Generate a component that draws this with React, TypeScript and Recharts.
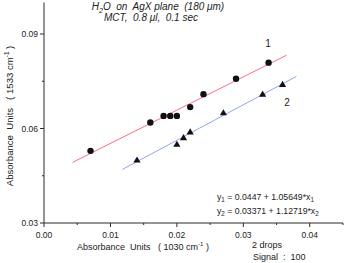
import React from "react";
import { ComposedChart, Scatter, Line, XAxis, YAxis } from "recharts";

const series1X = [0.007, 0.016, 0.018, 0.019, 0.02, 0.022, 0.024, 0.0289, 0.0338];
const series1Y = [0.0529, 0.0619, 0.064, 0.064, 0.064, 0.0668, 0.0709, 0.0758, 0.0809];
const series2X = [0.014, 0.02, 0.021, 0.022, 0.027, 0.0329, 0.0359];
const series2Y = [0.05, 0.055, 0.0571, 0.0589, 0.065, 0.0709, 0.074];

const fit1 = { intercept: 0.0447, slope: 1.05649, from: 0.0043, to: 0.0365 };
const fit2 = { intercept: 0.03371, slope: 1.12719, from: 0.0118, to: 0.038 };

const xTicks = [0, 0.005, 0.01, 0.015, 0.02, 0.025, 0.03, 0.035, 0.04, 0.045];
const xMajor = [0, 0.01, 0.02, 0.03, 0.04];
const yTicks = [0.03, 0.045, 0.06, 0.075, 0.09];
const yMajor = [0.03, 0.06, 0.09];

const pts1 = series1X.map((x, i) => ({ x, y: series1Y[i] }));
const pts2 = series2X.map((x, i) => ({ x, y: series2Y[i] }));
const line1 = [fit1.from, fit1.to].map((x) => ({ x, y: fit1.intercept + fit1.slope * x }));
const line2 = [fit2.from, fit2.to].map((x) => ({ x, y: fit2.intercept + fit2.slope * x }));

const FONT = "'Liberation Sans', Arial, sans-serif";
const AXIS = "#2a2a2a";

const isMajor = (v: number, list: number[]) => list.some((m) => Math.abs(m - v) < 1e-9);

const XTick = (props: any) => {
  const { x, y, payload } = props;
  const major = isMajor(payload.value, xMajor);
  return (
    <g>
      <line x1={x} x2={x} y1={y} y2={y + (major ? 4 : 2)} stroke={AXIS} strokeWidth={1} />
      {major && (
        <text x={x} y={y + 15} textAnchor="middle" fontSize={8.5} fontFamily={FONT} fill="#222">
          {payload.value.toFixed(2)}
        </text>
      )}
    </g>
  );
};

const YTick = (props: any) => {
  const { x, y, payload } = props;
  const major = isMajor(payload.value, yMajor);
  return (
    <g>
      <line x1={x} x2={x - (major ? 4 : 2)} y1={y} y2={y} stroke={AXIS} strokeWidth={1} />
      {major && (
        <text x={x - 6} y={y + 3} textAnchor="end" fontSize={8.5} fontFamily={FONT} fill="#222">
          {payload.value.toFixed(2)}
        </text>
      )}
    </g>
  );
};

const Dot = (props: any) => <circle cx={props.cx} cy={props.cy} r={3.2} fill="#111" />;
const Tri = (props: any) => {
  const { cx, cy } = props;
  return <path d={`M${cx},${cy - 3.6} L${cx + 3.6},${cy + 2.6} L${cx - 3.6},${cy + 2.6} Z`} fill="#111" />;
};

const pre = { whiteSpace: "pre" } as React.CSSProperties;

export default function App() {
  return (
    <div style={{ position: "absolute", left: 0, top: 0, width: 344, height: 263, background: "#fff" }}>
      <ComposedChart width={344} height={263} margin={{ top: 2.5, right: 1, bottom: 0, left: 0 }}>
        <XAxis
          type="number"
          dataKey="x"
          domain={[0, 0.045]}
          ticks={xTicks}
          interval={0}
          tickSize={0}
          tickMargin={0}
          tick={<XTick />}
          height={40}
          stroke={AXIS}
          allowDataOverflow
        />
        <YAxis
          type="number"
          dataKey="y"
          domain={[0.03, 0.1]}
          ticks={yTicks}
          interval={0}
          tickSize={0}
          tickMargin={0}
          tick={<YTick />}
          width={44}
          stroke={AXIS}
          allowDataOverflow
        />
        <Line data={line1} dataKey="y" stroke="#ff6b84" strokeWidth={1} dot={false} isAnimationActive={false} />
        <Line data={line2} dataKey="y" stroke="#8ea6f2" strokeWidth={1} dot={false} isAnimationActive={false} />
        <Scatter data={pts1} fill="#111" shape={<Dot />} isAnimationActive={false} />
        <Scatter data={pts2} fill="#111" shape={<Tri />} isAnimationActive={false} />
      </ComposedChart>
      <svg width={344} height={263} style={{ position: "absolute", left: 0, top: 0, pointerEvents: "none" }}>
        <g fontFamily={FONT} fill="#222" style={pre}>
          <text x={158} y={10} textAnchor="middle" fontSize={10} fontStyle="italic" style={pre}>
            H<tspan fontSize={7} dy={3}>2</tspan><tspan dy={-3}>{"O  on  AgX plane  (180 "}</tspan>μm)
          </text>
          <text x={151} y={21} textAnchor="middle" fontSize={10} fontStyle="italic" style={pre}>
            {"MCT,  0.8 μl,  0.1 sec"}
          </text>
          <text x={268} y={47} textAnchor="middle" fontSize={10}>1</text>
          <text x={287} y={106} textAnchor="middle" fontSize={10}>2</text>
          <text x={217} y={200} fontSize={8.7}>
            y<tspan fontSize={6.3} dy={2}>1</tspan><tspan dy={-2}>{" = 0.0447 + 1.05649*x"}</tspan><tspan fontSize={6.3} dy={2}>1</tspan>
          </text>
          <text x={217} y={214} fontSize={8.7}>
            y<tspan fontSize={6.3} dy={2}>2</tspan><tspan dy={-2}>{" = 0.03371 + 1.12719*x"}</tspan><tspan fontSize={6.3} dy={2}>2</tspan>
          </text>
          <text x={143} y={250} textAnchor="middle" fontSize={9} style={pre}>
            {"Absorbance  Units   ( 1030 cm"}<tspan fontSize={6} dy={-4}>-1</tspan><tspan dy={4}>{" )"}</tspan>
          </text>
          <text x={252} y={248} fontSize={9}>2 drops</text>
          <text x={253} y={260} fontSize={9} style={pre}>{"Signal  :  100"}</text>
          <text transform="translate(13,116) rotate(-90)" textAnchor="middle" fontSize={9.6} style={pre}>
            {"Absorbance  Units   ( 1533 cm"}<tspan fontSize={6.3} dy={-4}>-1</tspan><tspan dy={4}>{" )"}</tspan>
          </text>
        </g>
      </svg>
    </div>
  );
}
